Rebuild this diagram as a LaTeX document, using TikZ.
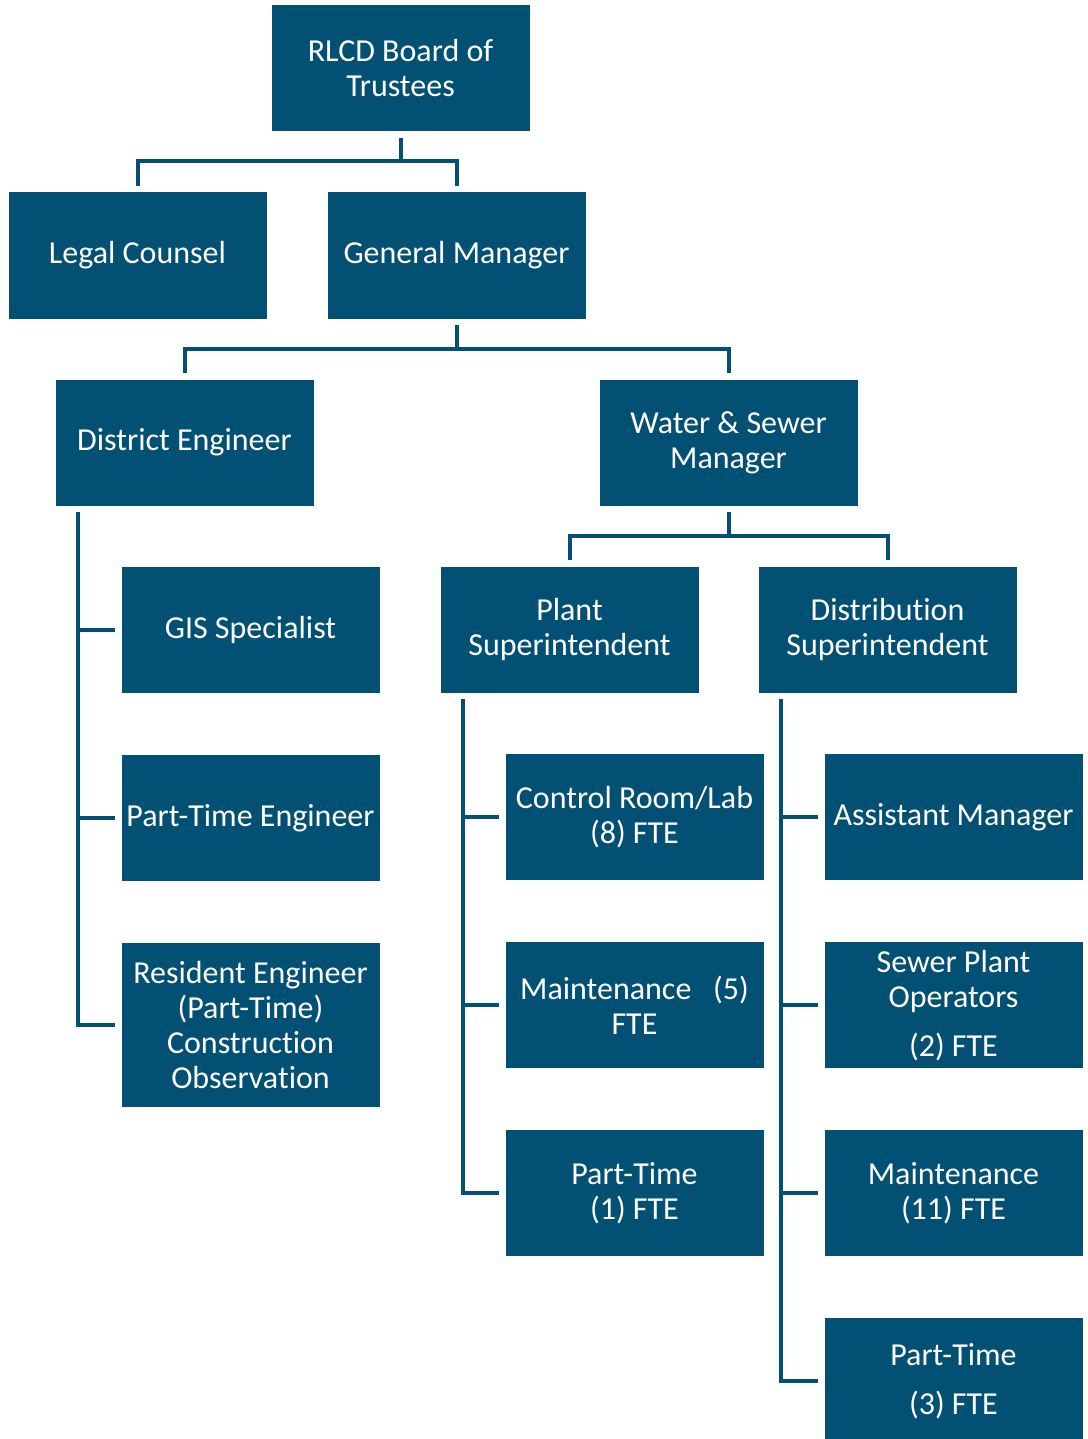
\documentclass[tikz,border=0pt]{standalone}
\usepackage{fontspec}
\setmainfont{Carlito}[Ligatures=NoCommon]
\usepackage{xcolor}
\usepackage{tikz}
\usetikzlibrary{positioning,calc}
\definecolor{orgblue}{RGB}{3,80,117}
\tikzset{
  box/.style={fill=orgblue, text=white, align=center, inner sep=0pt, minimum width=129pt, minimum height=63pt, font=\fontsize{16}{17.5}\selectfont},
  tallbox/.style={box, minimum height=82pt},
  link/.style={draw=orgblue, line width=2pt}
}
\begin{document}
\begin{tikzpicture}[x=0.5pt, y=-0.5pt, node distance=30.5pt]
  \useasboundingbox (0,0) rectangle (1087,1439);
  \node[box] (board) at (400.5,68.5) {RLCD Board of\\Trustees};
  \node[box] (legal) at (137.5,255.5) {Legal Counsel};
  \node[box] (gm) at (456.5,255.5) {General Manager};
  \node[box] (de) at (184.5,442.5) {District Engineer};
  \node[box] (ws) at (728.5,442.5) {Water \& Sewer\\Manager};
  \node[box] (plant) at (569.5,629.5) {Plant\\Superintendent};
  \node[box] (dist) at (887.5,629.5) {Distribution\\Superintendent};
  \node[box, below right=30.5pt and 33pt of de.south west] (gis) {GIS Specialist};
  \node[box, below=of gis] (pte) {Part-Time Engineer};
  \node[tallbox, below=of pte] (resident) {Resident Engineer\\(Part-Time)\\Construction\\Observation};
  \node[box, below right=30.5pt and 32.5pt of plant.south west] (control) {Control Room/Lab\\(8) FTE};
  \node[box, below=of control] (pmaint) {Maintenance\ \ \ (5)\\FTE};
  \node[box, below=of pmaint] (ppart) {Part-Time\\(1) FTE};
  \node[box, below right=30.5pt and 33pt of dist.south west] (asst) {Assistant Manager};
  \node[box, below=of asst] (sewer) {Sewer Plant\\Operators\\[7pt](2) FTE};
  \node[box, below=of sewer] (dmaint) {Maintenance\\(11) FTE};
  \node[box, below=of dmaint] (dpart) {Part-Time\\[7pt](3) FTE};
  \draw[link] ([yshift=-3pt]board.south) -- ++(0,-11.5pt) coordinate (bj);
  \draw[link] ([yshift=3pt]legal.north) |- (bj) -| ([yshift=3pt]gm.north);
  \draw[link] ([yshift=-3pt]gm.south) -- ++(0,-12pt) coordinate (gj);
  \draw[link] ([yshift=3pt]de.north) |- (gj) -| ([yshift=3pt]ws.north);
  \draw[link] ([yshift=-3pt]ws.south) -- ++(0,-12pt) coordinate (wj);
  \draw[link] ([yshift=3pt]plant.north) |- (wj) -| ([yshift=3pt]dist.north);
  \coordinate (detrunk) at ([xshift=11.5pt,yshift=-3pt]de.south west);
  \coordinate (pltrunk) at ([xshift=11.5pt,yshift=-3pt]plant.south west);
  \coordinate (dstrunk) at ([xshift=11.5pt,yshift=-3pt]dist.south west);
  \draw[link] (detrunk) |- ([xshift=-3pt]resident.west);
  \draw[link] (pltrunk) |- ([xshift=-3pt]ppart.west);
  \draw[link] (dstrunk) |- ([xshift=-3pt]dpart.west);
  \foreach \n in {gis,pte}
    \draw[link] (\n.west -| detrunk) -- ([xshift=-3pt]\n.west);
  \foreach \n in {control,pmaint}
    \draw[link] (\n.west -| pltrunk) -- ([xshift=-3pt]\n.west);
  \foreach \n in {asst,sewer,dmaint}
    \draw[link] (\n.west -| dstrunk) -- ([xshift=-3pt]\n.west);
\end{tikzpicture}
\end{document}
